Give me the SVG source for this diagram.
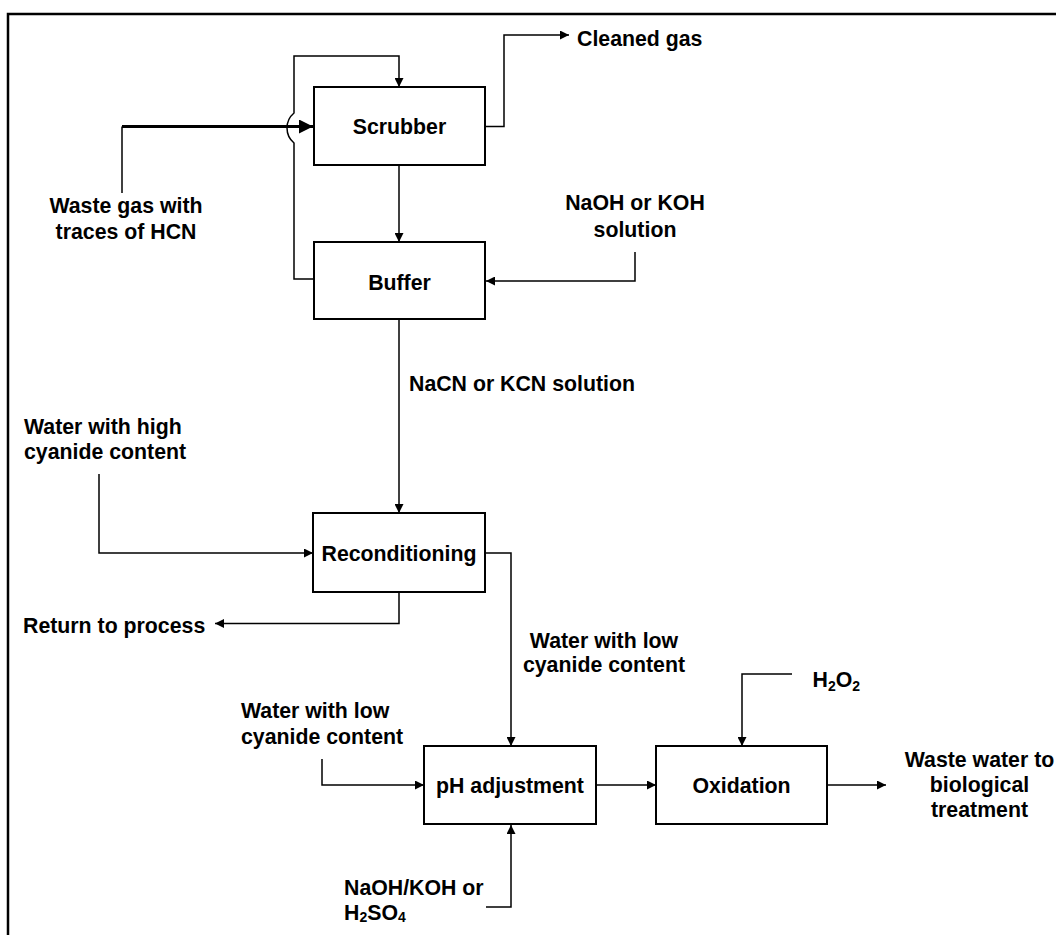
<svg xmlns="http://www.w3.org/2000/svg" width="1056" height="935" viewBox="0 0 1056 935">
<style>
text{font-family:"Liberation Sans",Arial,sans-serif;font-weight:bold;font-size:21.3px;fill:#000}
.m{text-anchor:middle}
.box{fill:#fff;stroke:#000;stroke-width:2}
.c{fill:none;stroke:#000;stroke-width:1.5}
.thick{fill:none;stroke:#000;stroke-width:3}
.sub{font-size:14px}
</style>
<defs>
<marker id="a" viewBox="0 0 10 10" refX="10" refY="5" markerWidth="10" markerHeight="9" markerUnits="userSpaceOnUse" orient="auto"><path d="M0,0L10,5L0,10z" fill="#000"/></marker>
<marker id="ab" viewBox="0 0 10 10" refX="10" refY="5" markerWidth="14" markerHeight="14" markerUnits="userSpaceOnUse" orient="auto"><path d="M0,0L10,5L0,10z" fill="#000"/></marker>
</defs>
<rect width="1056" height="935" fill="#fff"/>
<path d="M8,935V14H1056" fill="none" stroke="#000" stroke-width="2.5"/>
<g id="connectors">
<path class="c" d="M122,193V126.5"/>
<path class="thick" d="M122,126.5H313" marker-end="url(#ab)"/>
<path class="c" d="M314,279H294V143A19.6,19.6 0 0 1 294,113V56H399V87" marker-end="url(#a)"/>
<path class="c" d="M485,126.5H504V35H569" marker-end="url(#a)"/>
<path class="c" d="M399,165V242" marker-end="url(#a)"/>
<path class="c" d="M635,252V281H486" marker-end="url(#a)"/>
<path class="c" d="M399,319V513" marker-end="url(#a)"/>
<path class="c" d="M99,474V553H313" marker-end="url(#a)"/>
<path class="c" d="M399,592V623.5H215" marker-end="url(#a)"/>
<path class="c" d="M485,553H511V746" marker-end="url(#a)"/>
<path class="c" d="M322,759V785H424" marker-end="url(#a)"/>
<path class="c" d="M596,785H656" marker-end="url(#a)"/>
<path class="c" d="M792,674H742V746" marker-end="url(#a)"/>
<path class="c" d="M827,785H886" marker-end="url(#a)"/>
<path class="c" d="M486,907H511V825" marker-end="url(#a)"/>
</g>
<g id="scrubber"><rect class="box" x="314" y="87" width="171" height="78"/><text class="m" x="399.5" y="134">Scrubber</text></g>
<g id="buffer"><rect class="box" x="314" y="242" width="171" height="77"/><text class="m" x="399.5" y="289.5">Buffer</text></g>
<g id="reconditioning"><rect class="box" x="313" y="513" width="172" height="79"/><text class="m" x="399" y="560.5">Reconditioning</text></g>
<g id="ph"><rect class="box" x="424" y="746" width="172" height="78"/><text class="m" x="510" y="792.5">pH adjustment</text></g>
<g id="oxidation"><rect class="box" x="656" y="746" width="171" height="78"/><text class="m" x="741.5" y="792.5">Oxidation</text></g>
<g id="cleaned-gas"><text x="577" y="46">Cleaned gas</text></g>
<g id="waste-gas"><text class="m" x="126" y="213">Waste gas with</text><text class="m" x="126" y="239">traces of HCN</text></g>
<g id="naoh-koh"><text class="m" x="635" y="210">NaOH or KOH</text><text class="m" x="635" y="237">solution</text></g>
<g id="nacn"><text x="409" y="391">NaCN or KCN solution</text></g>
<g id="water-high"><text x="24" y="434">Water with high</text><text x="24" y="459">cyanide content</text></g>
<g id="return"><text x="23" y="633">Return to process</text></g>
<g id="water-low-1"><text class="m" x="604" y="648">Water with low</text><text class="m" x="604" y="672">cyanide content</text></g>
<g id="water-low-2"><text x="241" y="718">Water with low</text><text x="241" y="744">cyanide content</text></g>
<g id="h2o2"><text x="812.5" y="687">H<tspan class="sub" dy="4">2</tspan><tspan dy="-4">O</tspan><tspan class="sub" dy="4">2</tspan></text></g>
<g id="waste-water"><text class="m" x="979.5" y="767">Waste water to</text><text class="m" x="979.5" y="792">biological</text><text class="m" x="979.5" y="817">treatment</text></g>
<g id="naoh-h2so4"><text x="344" y="895">NaOH/KOH or</text><text x="344" y="920">H<tspan class="sub" dy="2">2</tspan><tspan dy="-2">SO</tspan><tspan class="sub" dy="2">4</tspan></text></g>
</svg>
